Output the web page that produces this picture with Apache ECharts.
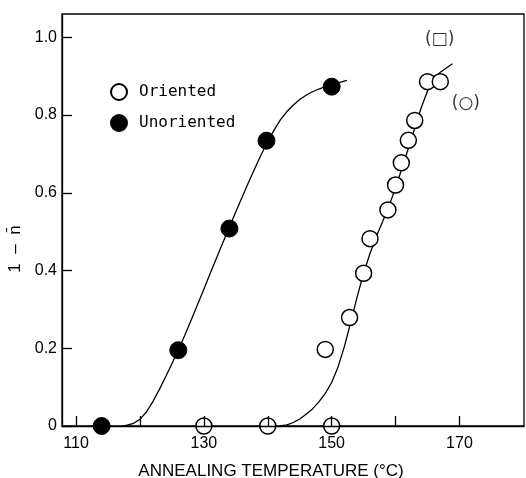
<!DOCTYPE html>
<html>
<head>
<meta charset="utf-8">
<script src="https://cdn.jsdelivr.net/npm/echarts@6/dist/echarts.min.js"></script>
<style>html,body{margin:0;padding:0;background:#fff}#c{width:526px;height:478px}</style>
</head>
<body>
<div id="c"></div>
<script>
// Measured data points
const orientedPts = [[130,0],[140,0],[150,0],[149,0.197],[152.8,0.279],[155,0.393],[156,0.482],[158.8,0.556],[160,0.62],[160.9,0.677],[162,0.735],[163,0.786],[165,0.886],[167,0.886]];
const unorientedPts = [[114,0],[126,0.195],[134,0.508],[139.8,0.734],[150,0.873]];
// Fitted curves
const orientedCurve = [[141.9,0],[143,0.003],[144,0.009],[145,0.018],[146,0.03],[147,0.044],[148,0.062],[149,0.084],[150,0.112],[151,0.152],[152,0.205],[153,0.268],[154,0.333],[155,0.393],[156,0.444],[157,0.488],[158,0.527],[159,0.567],[160,0.613],[161,0.663],[162,0.714],[163,0.766],[164,0.818],[165,0.862],[166,0.893],[167,0.91],[168.9,0.932]];
const unorientedCurve = [[117.3,0],[118,0.002],[119,0.007],[120,0.017],[121,0.036],[122,0.062],[123,0.093],[124,0.126],[125,0.16],[126,0.196],[127,0.233],[128,0.272],[129,0.312],[130,0.352],[131,0.393],[132,0.433],[133,0.473],[134,0.512],[135,0.551],[136,0.589],[137,0.627],[138,0.664],[139,0.699],[140,0.732],[141,0.762],[142,0.788],[143,0.809],[144,0.826],[145,0.84],[146,0.851],[147,0.86],[148,0.867],[149,0.873],[150,0.878],[151,0.883],[152.4,0.889]];
const annotations = [{value:[166.9,0.995],text:'(□)'},{value:[171,0.83],text:'(○)'}];
const xTicks = [110,120,130,140,150,160,170];
const xLabels = [110,130,150,170];
const yTicks = [0,0.2,0.4,0.6,0.8,1.0];

const chart = echarts.init(document.getElementById('c'), null, {renderer:'canvas'});
const font = '"Liberation Sans", Arial, sans-serif';
chart.setOption({
  animation:false,
  backgroundColor:'#fff',
  grid:{left:62, top:14, right:2, bottom:52, show:true, borderColor:'#000', borderWidth:1.3, backgroundColor:'transparent', outerBoundsMode:'none', containLabel:false},
  legend:{
    orient:'vertical', left:105, top:78, itemGap:13, itemWidth:16, itemHeight:16,
    data:['Oriented','Unoriented'],
    textStyle:{fontFamily:'"DejaVu Sans Mono", monospace', fontSize:16, color:'#000', padding:[0,0,0,7]}
  },
  xAxis:{
    type:'value', min:107.8, max:180.1, z:3,
    name:'ANNEALING TEMPERATURE (°C)', nameLocation:'middle', nameGap:37,
    nameTextStyle:{fontFamily:font, fontSize:17, color:'#000', padding:[0,44,0,0]},
    axisLine:{show:true, onZero:false, lineStyle:{color:'#000', width:1.3}},
    axisTick:{show:true, inside:true, length:10, customValues:xTicks, lineStyle:{color:'#000', width:1.3}},
    axisLabel:{customValues:xLabels, margin:10, fontFamily:font, fontSize:16, color:'#000'},
    splitLine:{show:false}
  },
  yAxis:{
    type:'value', min:0, max:1.06, z:3,
    name:'1  –  n\u0304', nameLocation:'middle', nameGap:36, nameRotate:90,
    nameTextStyle:{fontFamily:font, fontSize:17, color:'#000', padding:[0,58,0,0]},
    axisLine:{show:true, lineStyle:{color:'#000', width:1.3}},
    axisTick:{show:true, inside:true, length:10, customValues:yTicks, lineStyle:{color:'#000', width:1.3}},
    axisLabel:{customValues:yTicks, margin:5, fontFamily:font, fontSize:16, color:'#000',
      formatter:v=> v===0 ? '0' : v.toFixed(1)},
    splitLine:{show:false}
  },
  series:[
    {type:'line', data:unorientedCurve, smooth:false, symbol:'none', lineStyle:{color:'#000', width:1.3}, z:1},
    {type:'line', data:orientedCurve, smooth:false, symbol:'none', lineStyle:{color:'#000', width:1.3}, z:1},
    {name:'Oriented', type:'scatter', data:orientedPts, symbol:'circle', symbolSize:16,
      itemStyle:{color:'#fff', borderColor:'#000', borderWidth:1.5, opacity:1}, z:2},
    {name:'Unoriented', type:'scatter', data:unorientedPts, symbol:'circle', symbolSize:17,
      itemStyle:{color:'#000', borderColor:'#000', borderWidth:1, opacity:1}, z:2},
    {type:'scatter', symbolSize:0, silent:true,
      data:annotations.map(a=>({value:a.value, label:{show:true, formatter:a.text}})),
      label:{show:true, position:'inside', fontFamily:'"DejaVu Sans", sans-serif', fontSize:17, color:'#000'}}
  ]
});
</script>
</body>
</html>
